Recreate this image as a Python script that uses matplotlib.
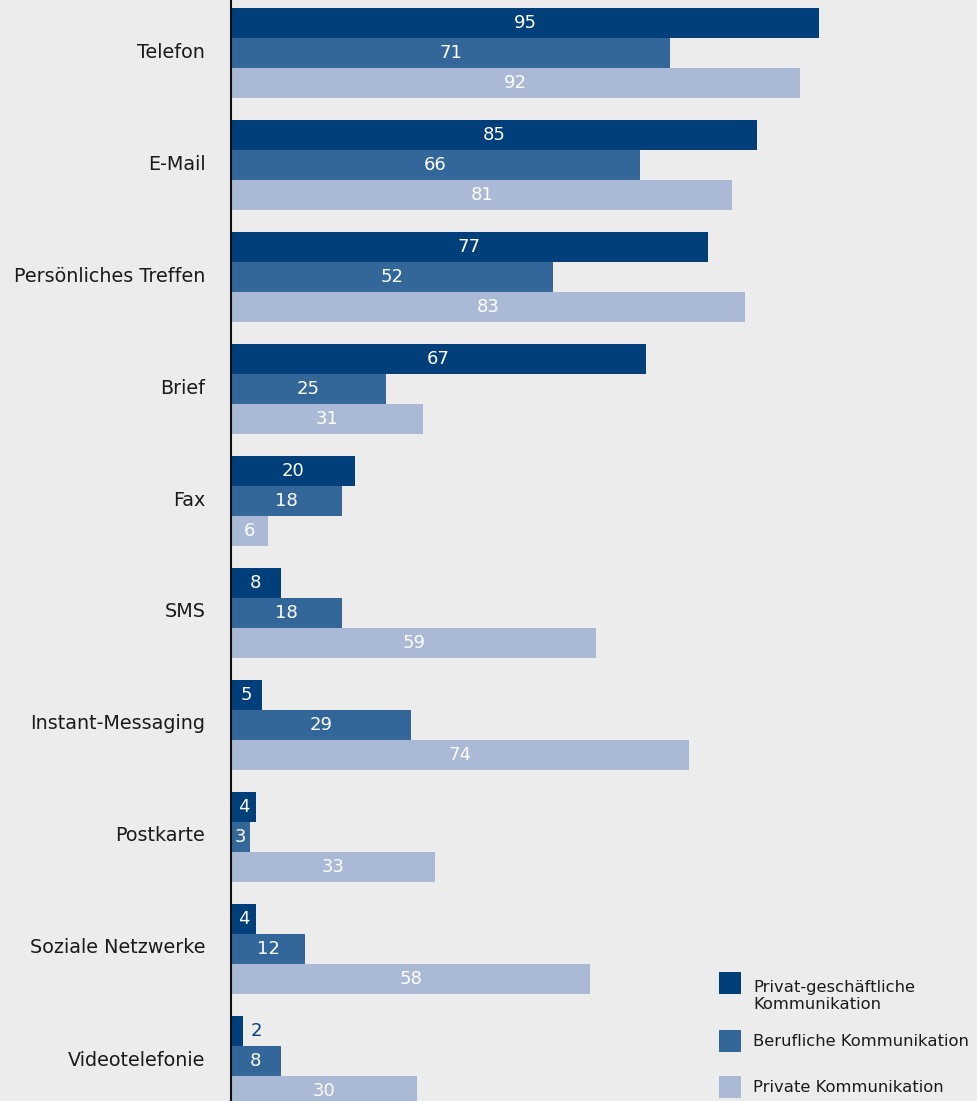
import matplotlib.pyplot as plt
from matplotlib.patches import Rectangle
import numpy as np

categories = ["Telefon", "E-Mail", "Persönliches Treffen", "Brief", "Fax", "SMS",
              "Instant-Messaging", "Postkarte", "Soziale Netzwerke", "Videotelefonie"]
privat_geschaeftlich = [95, 85, 77, 67, 20, 8, 5, 4, 4, 2]
beruflich = [71, 66, 52, 25, 18, 18, 29, 3, 12, 8]
privat = [92, 81, 83, 31, 6, 59, 74, 33, 58, 30]
series_labels = ["Privat-geschäftliche\nKommunikation", "Berufliche Kommunikation",
                 "Private Kommunikation"]

colors = ["#003f7a", "#336699", "#aab9d5"]
bg = "#ececec"

W, H = 978, 1101
fig = plt.figure(figsize=(W / 100, H / 100), dpi=100, facecolor=bg)
ax = fig.add_axes([231 / W, 0, 1 - 231 / W, 1])
ax.set_facecolor(bg)

h = 30 / 112
y = np.arange(len(categories))
series = [privat_geschaeftlich, beruflich, privat]
for j, vals in enumerate(series):
    pos = y + (j - 1) * h
    ax.barh(pos, vals, height=h, color=colors[j], linewidth=0)
    for p, v in zip(pos, vals):
        if v < 3:
            ax.text(v + 1.2, p, str(v), ha="left", va="center", color=colors[0],
                    fontsize=13)
        else:
            ax.text(v / 2, p, str(v), ha="center", va="center", color="white",
                    fontsize=13)

ax.set_xlim(0, 747 / 6.19)
ax.set_ylim((H - 53) / 112, -53 / 112)
ax.set_yticks(y - 3 / 112)
ax.set_yticklabels(categories, fontsize=13.8, color="#1a1a1a")
ax.tick_params(axis="y", length=0, pad=18.5)
ax.set_xticks([])
for s in ["top", "right", "bottom"]:
    ax.spines[s].set_visible(False)
ax.spines["left"].set_linewidth(1.5)
ax.spines["left"].set_color("#111111")

# legend
leg_y = [983, 1041, 1087]
for c, lab, ly in zip(colors, series_labels, leg_y):
    fig.patches.append(Rectangle((719 / W, 1 - (ly + 11) / H), 22 / W, 22 / H,
                                 transform=fig.transFigure, color=c, linewidth=0))
    ty = ly + 13 if "\n" in lab else ly
    fig.text(753 / W, 1 - ty / H, lab, ha="left", va="center", fontsize=11.8,
             color="#1a1a1a", linespacing=1.2)

fig.savefig("out.png", dpi=100, facecolor=bg)
